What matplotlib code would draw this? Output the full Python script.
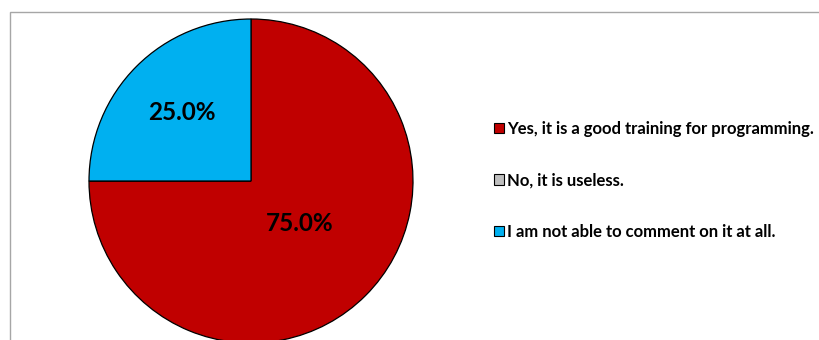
import numpy as np
import matplotlib.pyplot as plt
from matplotlib.patches import Patch, Rectangle

# ── Data ─────────────────────────────────────────────────────────────────────
LABELS = [
    "Yes, it is a good training for programming.",
    "No, it is useless.",
    "I am not able to comment on it at all.",
]
SHARES = [75.0, 0.0, 25.0]
COLORS = ["#C00000", "#BFBFBF", "#00B0F0"]

# label placement along each wedge: distance (fraction of radius), angle nudge (deg)
PCT_DIST = [0.40, 0.0, 0.60]
PCT_ANGLE = [4, 0, 0]

FONT = ["Lato", "DejaVu Sans"]

W, H = 819, 340
fig = plt.figure(figsize=(W / 100, H / 100), dpi=100)

# outer chart frame (top and left edges visible, others cut off)
fig.patches.append(Rectangle((9.5 / W, -0.2), 1.2, (H - 12.5) / H + 0.2,
                             transform=fig.transFigure, fill=False,
                             edgecolor="#A6A6A6", lw=1.0))

# pie axes: centre (251, 181) px, radius 162 px
cx, cy, r = 251, H - 181, 162
ax = fig.add_axes([(cx - r) / W, (cy - r) / H, 2 * r / W, 2 * r / H])
wedges, _ = ax.pie(SHARES, colors=COLORS, startangle=90, counterclock=False,
                   wedgeprops=dict(edgecolor="black", linewidth=0.9))
ax.set_xlim(-1, 1); ax.set_ylim(-1, 1)
ax.set_aspect("equal")
ax.axis("off")

# percentage labels, positioned on each wedge's bisector
for w, share, d, da in zip(wedges, SHARES, PCT_DIST, PCT_ANGLE):
    if share <= 0:
        continue
    mid = np.deg2rad((w.theta1 + w.theta2) / 2 + da)
    ax.text(d * np.cos(mid), d * np.sin(mid), f"{share:.1f}%",
            ha="center", va="center", fontsize=17.5, fontweight="bold",
            family=FONT, color="black")

handles = [Patch(facecolor=c, edgecolor="black", lw=0.8) for c in COLORS]
leg = fig.legend(handles, LABELS, loc="upper left",
                 bbox_to_anchor=(479 / W, 1 - 106 / H),
                 frameon=False, handlelength=0.6, handleheight=0.6,
                 handletextpad=0.2, labelspacing=2.12,
                 prop=dict(family=FONT, weight="bold", size=12))

fig.savefig("out.png", dpi=100)
